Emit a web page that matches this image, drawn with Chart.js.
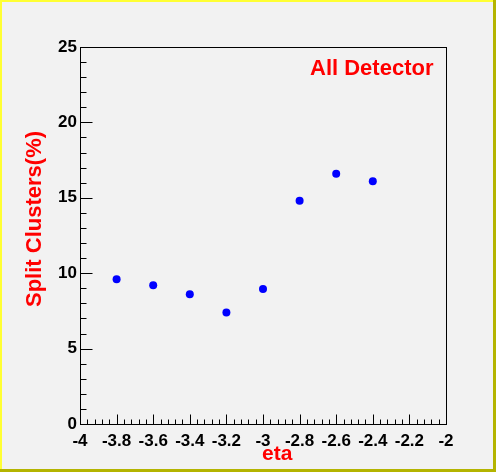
<meta charset="UTF-8">
<title>Split Clusters</title>
<script src="https://cdn.jsdelivr.net/npm/chart.js"></script>
<style>
  body { margin: 0; background: #f2f2f2; }
  canvas { display: block; }
</style>
<canvas id="splitChart" width="496" height="472"></canvas>
<script>
// eta bins and split cluster fraction (%)
var etaValues = [-3.8, -3.6, -3.4, -3.2, -3.0, -2.8, -2.6, -2.4];
var splitValues = [9.6, 9.2, 8.6, 7.4, 8.95, 14.8, 16.6, 16.1];

var xTitle = 'eta';
var yTitle = 'Split Clusters(%)';
var label = 'All Detector';

var points = [];
for (var i = 0; i < etaValues.length; i++) {
    points.push({x: etaValues[i], y: splitValues[i]});
}

// ROOT style frame, inner tick marks and red titles
var rootStyle = {
    id: 'rootStyle',
    beforeDraw: function(chart) {
        var ctx = chart.ctx, w = chart.width, h = chart.height;
        ctx.save();
        ctx.fillStyle = '#f2f2f2';
        ctx.fillRect(0, 0, w, h);
        ctx.fillStyle = '#ffff33';
        ctx.fillRect(0, 0, w, 2);
        ctx.fillRect(0, 0, 2, h);
        ctx.fillStyle = '#b4b400';
        ctx.fillRect(w - 3, 0, 3, h);
        ctx.fillRect(0, h - 3, w, 3);
        ctx.restore();
    },
    afterDraw: function(chart) {
        var ctx = chart.ctx, a = chart.chartArea;
        var xs = chart.scales.x, ys = chart.scales.y;
        ctx.save();
        ctx.strokeStyle = '#000';
        ctx.lineWidth = 1;
        var l = Math.round(a.left) + 0.5, r = Math.round(a.right) + 0.5;
        var t = Math.round(a.top) + 0.5, b = Math.round(a.bottom) + 0.5;
        ctx.strokeRect(l, t, r - l, b - t);

        ctx.beginPath();
        // y ticks every 1, major every 5
        for (var v = 0; v <= 25; v++) {
            var py = Math.round(ys.getPixelForValue(v)) + 0.5;
            var len = (v % 5 === 0) ? 12 : 6;
            ctx.moveTo(l, py);
            ctx.lineTo(l + len, py);
        }
        // x ticks every 0.04, major every 0.2
        for (var k = 0; k <= 50; k++) {
            var xv = -4 + k * 0.04;
            var px = Math.round(xs.getPixelForValue(xv)) + 0.5;
            var xl = (k % 5 === 0) ? 10 : 5;
            ctx.moveTo(px, b);
            ctx.lineTo(px, b - xl);
        }
        ctx.stroke();

        ctx.fillStyle = '#ff0000';
        ctx.textBaseline = 'alphabetic';
        ctx.textAlign = 'left';
        ctx.font = 'bold 22px "Liberation Sans", Arial, sans-serif';
        ctx.fillText(label, 310, 75);

        ctx.font = 'bold 21px "Liberation Sans", Arial, sans-serif';
        ctx.fillText(xTitle, 262, 460);

        ctx.font = 'bold 22px "Liberation Sans", Arial, sans-serif';
        ctx.translate(41, 307);
        ctx.rotate(-Math.PI / 2);
        ctx.fillText(yTitle, 0, 0);
        ctx.restore();
    }
};

function drawChart() {
    var ctx = document.getElementById('splitChart').getContext('2d');
    var tickFont = {family: '"Liberation Sans", Arial, sans-serif', size: 17, weight: 'bold'};
    new Chart(ctx, {
        type: 'scatter',
        data: {
            datasets: [{
                data: points,
                backgroundColor: '#0000ff',
                borderColor: '#0000ff',
                pointRadius: 4,
                pointHoverRadius: 4,
                borderWidth: 0
            }]
        },
        options: {
            responsive: false,
            animation: false,
            events: [],
            layout: {padding: {left: 0, top: 47, right: 50, bottom: 0}},
            scales: {
                x: {
                    type: 'linear',
                    min: -4,
                    max: -2,
                    afterFit: function(s) { s.height = 48; },
                    grid: {display: false},
                    border: {display: false},
                    ticks: {
                        stepSize: 0.2,
                        color: '#000',
                        font: tickFont,
                        padding: -1,
                        maxRotation: 0,
                        autoSkip: false,
                        callback: function(v) { return String(Math.round(v * 10) / 10); }
                    }
                },
                y: {
                    min: 0,
                    max: 25,
                    afterFit: function(s) { s.width = 80; },
                    grid: {display: false},
                    border: {display: false},
                    ticks: {
                        stepSize: 5,
                        color: '#000',
                        font: tickFont,
                        padding: -5
                    }
                }
            },
            plugins: {
                legend: {display: false},
                tooltip: {enabled: false}
            }
        },
        plugins: [rootStyle]
    });
}
drawChart();
</script>
